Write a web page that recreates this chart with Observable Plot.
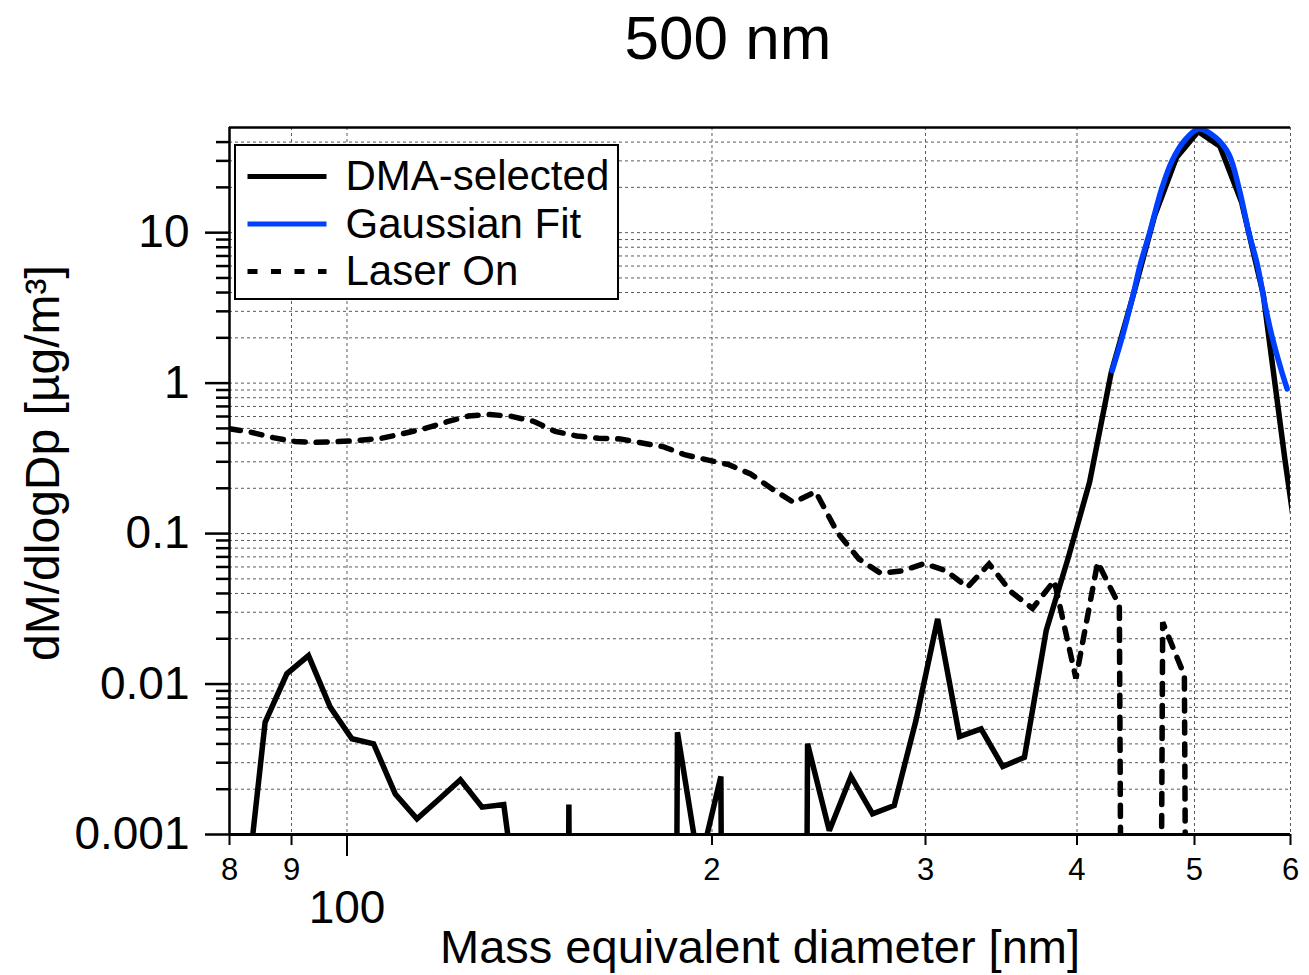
<!DOCTYPE html>
<html>
<head>
<meta charset="utf-8">
<script src="https://cdn.jsdelivr.net/npm/d3@7"></script>
<script src="https://cdn.jsdelivr.net/npm/@observablehq/plot@0.6"></script>
<style>
  body { margin: 0; background: #fff; font-family: "Liberation Sans", Arial, sans-serif; }
  #wrap { position: relative; width: 1309px; height: 975px; overflow: hidden; }
  #legend { position: absolute; left: 234px; top: 144px; width: 381px; height: 152px;
            border: 2.5px solid #000; background: #fff; }
  #legend svg { display: block; }
</style>
</head>
<body>
<div id="wrap"><div id="legend"></div></div>
<script>
// ---------- data ----------
const titleText = "500 nm";
const xLabel = "Mass equivalent diameter [nm]";
const yLabel = "dM/dlogDp [µg/m³]";
const seriesNames = ["DMA-selected", "Gaussian Fit", "Laser On"];
const seriesColors = ["#000000", "#0040ff", "#000000"];

// DMA-selected (solid black); 1e-30 marks empty bins (below the axis)
const dmaDiameter = [82.14, 85.60, 89.20, 92.95, 96.86, 100.94, 105.18, 109.60, 114.21, 119.02,
  124.03, 129.24, 134.68, 140.34, 146.2, 152.4, 158.9, 165.5, 172.5, 179.8,
  187.3, 195.2, 203.4, 212.0, 220.8, 230.1, 239.8, 249.9, 260.4, 271.3,
  282.7, 294.6, 307.0, 320.0, 333.4, 347.4, 362.0, 377.3, 393.2, 409.7,
  426.9, 444.9, 463.6, 483.2, 503.5, 524.7, 546.7, 569.7, 593.7, 618.7];
const dmaValue = [0.00027, 0.00557, 0.0117, 0.01545, 0.00702, 0.00433, 0.00401, 0.00186, 0.00127, 0.00171,
  0.00231, 0.00152, 0.00158, 0.00013, 1e-30, 0.00158, 1e-30, 1e-30, 1e-30, 1e-30,
  0.00478, 0.0006, 0.00243, 1e-30, 1e-30, 1e-30, 0.00401, 0.00106, 0.00243, 0.00137,
  0.00156, 0.00572, 0.0271, 0.00448, 0.00504, 0.00283, 0.00326, 0.0227, 0.068, 0.22,
  1.18, 3.8, 13, 31.6, 47, 37.5, 16, 3.9, 0.31, 0.03];

// Laser On (dashed black)
const laserDiameter = [80.0, 83.4, 86.9, 90.6, 94.4, 98.3, 102.5, 106.8, 111.3, 116.0,
  120.8, 125.9, 131.2, 136.7, 142.5, 148.5, 154.7, 161.3, 168.0, 175.1,
  182.5, 190.2, 198.2, 206.5, 215.2, 224.2, 233.6, 243.5, 253.7, 264.4,
  275.5, 287.1, 299.2, 311.8, 324.9, 338.5, 352.8, 367.6, 383.1, 399.2,
  416.0, 433.5, 451.7, 470.7, 490.5, 511.2, 532.7, 555.1, 578.4, 602.8];
const laserValue = [0.498, 0.471, 0.434, 0.409, 0.404, 0.409, 0.417, 0.430, 0.462, 0.500,
  0.552, 0.604, 0.619, 0.601, 0.557, 0.478, 0.445, 0.430, 0.426, 0.400,
  0.377, 0.333, 0.309, 0.287, 0.249, 0.198, 0.161, 0.19, 0.102, 0.0677,
  0.0545, 0.0566, 0.0632, 0.0568, 0.044, 0.0629, 0.0411, 0.0318, 0.0487, 0.0109,
  0.0645, 0.0332, 1e-30, 0.0257, 0.0114, 1e-30, 1e-30, 1e-30, 1e-30, 1e-30];

// Gaussian Fit (blue)
const fitDiameter = [427.6, 435.8, 445.5, 451.2, 459.3, 464.3, 470.2, 479.2, 490.6, 504.1,
  520.3, 533.6, 543.9, 554.3, 563.2, 572.2, 579.5, 588.7, 596.2];
const fitValue = [1.21, 2.02, 4.01, 6.19, 10.05, 14.0, 20.0, 30.1, 40.9, 48.9,
  43.0, 33.3, 20.0, 10.05, 6.19, 3.19, 2.02, 1.27, 0.915];

// axes
const yMajor = [0.001, 0.01, 0.1, 1, 10];
const yMajorLabels = ["0.001", "0.01", "0.1", "1", "10"];
const yMinor = [0.002, 0.003, 0.004, 0.005, 0.006, 0.007, 0.008, 0.009,
  0.02, 0.03, 0.04, 0.05, 0.06, 0.07, 0.08, 0.09,
  0.2, 0.3, 0.4, 0.5, 0.6, 0.7, 0.8, 0.9,
  2, 3, 4, 5, 6, 7, 8, 9, 20, 30, 40];
const xSmallTicks = [80, 90, 200, 300, 400, 500, 600];
const xSmallLabels = ["8", "9", "2", "3", "4", "5", "6"];
const xBigTicks = [100];
const xBigLabels = ["100"];

// ---------- build ----------
const dma = dmaDiameter.map((d, i) => ({d, v: dmaValue[i]}));
const laser = laserDiameter.map((d, i) => ({d, v: laserValue[i]}));
const fit = fitDiameter.map((d, i) => ({d, v: fitValue[i]}));
const yMajorMap = new Map(yMajor.map((t, i) => [t, yMajorLabels[i]]));
const xSmallMap = new Map(xSmallTicks.map((t, i) => [t, xSmallLabels[i]]));
const xBigMap = new Map(xBigTicks.map((t, i) => [t, xBigLabels[i]]));

const gridStyle = {stroke: "#5a5a5a", strokeOpacity: 1, strokeWidth: 1, strokeDasharray: "3,3"};
const dash = "11,11";
const lw = 5.5;

const chart = Plot.plot({
  width: 1309,
  height: 975,
  marginLeft: 229,
  marginRight: 19,
  marginTop: 127,
  marginBottom: 141,
  x: {type: "log", domain: [80, 600]},
  y: {type: "log", domain: [0.001, 50]},
  style: {fontFamily: "'Liberation Sans', Arial, sans-serif", color: "#000", background: "#fff", overflow: "visible"},
  marks: [
    Plot.gridY([...yMajor, ...yMinor], gridStyle),
    Plot.gridX([...xSmallTicks, ...xBigTicks], gridStyle),
    Plot.line(dma, {x: "d", y: "v", stroke: seriesColors[0], strokeWidth: lw, clip: true,
      strokeLinejoin: "miter", strokeMiterlimit: 3}),
    Plot.line(laser, {x: "d", y: "v", stroke: seriesColors[2], strokeWidth: lw, clip: true,
      strokeDasharray: dash, strokeLinejoin: "miter", strokeMiterlimit: 3}),
    Plot.line(fit, {x: "d", y: "v", stroke: seriesColors[1], strokeWidth: lw, clip: true,
      curve: "catmull-rom"}),
    Plot.ruleX([80], {stroke: "#000", strokeWidth: 2.5}),
    Plot.ruleY([0.001], {stroke: "#000", strokeWidth: 3}),
    Plot.ruleY([50], {stroke: "#000", strokeWidth: 2.5}),
    Plot.axisY(yMajor, {tickSize: 24, tickPadding: 16, fontSize: 46, strokeWidth: 2.5,
      tickFormat: (d) => yMajorMap.get(d), label: null}),
    Plot.axisY(yMinor, {tickSize: 13, strokeWidth: 2.5, tickFormat: () => "", label: null}),
    Plot.axisX(xSmallTicks, {tickSize: 11, tickPadding: 12, fontSize: 31, strokeWidth: 2,
      tickFormat: (d) => xSmallMap.get(d), label: null}),
    Plot.axisX(xBigTicks, {tickSize: 22, tickPadding: 34, fontSize: 46, strokeWidth: 2,
      tickFormat: (d) => xBigMap.get(d), label: null}),
    Plot.text([titleText], {text: (d) => d, frameAnchor: "top", dx: -32, dy: -69,
      fontSize: 62, lineAnchor: "bottom"}),
    Plot.text([xLabel], {text: (d) => d, frameAnchor: "bottom", dy: 128,
      fontSize: 47, lineAnchor: "bottom"}),
    Plot.text([yLabel], {text: (d) => d, frameAnchor: "left", textAnchor: "middle", rotate: -90,
      dx: -171, dy: -18, fontSize: 48, lineAnchor: "bottom"})
  ]
});
document.getElementById("wrap").prepend(chart);

// legend
const ns = "http://www.w3.org/2000/svg";
const lsvg = document.createElementNS(ns, "svg");
lsvg.setAttribute("width", 381);
lsvg.setAttribute("height", 152);
seriesNames.forEach((name, i) => {
  const cy = 30.5 + i * 47.5;
  const line = document.createElementNS(ns, "line");
  line.setAttribute("x1", 11.5); line.setAttribute("x2", 90.5);
  line.setAttribute("y1", cy); line.setAttribute("y2", cy);
  line.setAttribute("stroke", seriesColors[i]);
  line.setAttribute("stroke-width", 5);
  if (i === 2) line.setAttribute("stroke-dasharray", "10,13.5");
  lsvg.appendChild(line);
  const t = document.createElementNS(ns, "text");
  t.setAttribute("x", 109.5); t.setAttribute("y", cy + 13.5);
  t.setAttribute("font-size", 42);
  t.setAttribute("font-family", "'Liberation Sans', Arial, sans-serif");
  t.textContent = name;
  lsvg.appendChild(t);
});
document.getElementById("legend").appendChild(lsvg);
</script>
</body>
</html>
